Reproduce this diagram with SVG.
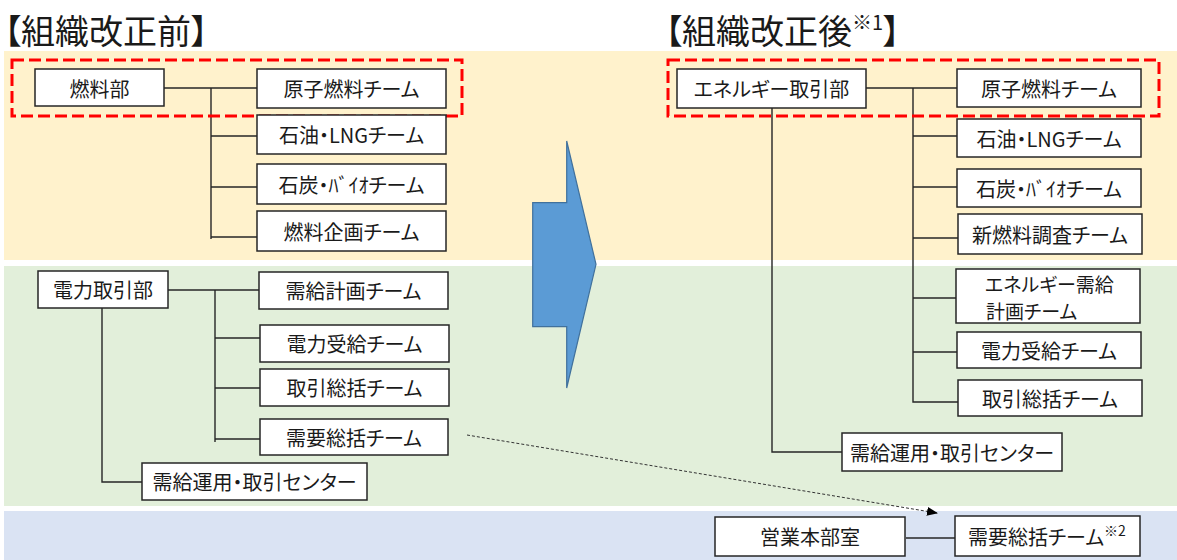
<svg xmlns="http://www.w3.org/2000/svg" width="1177" height="560" viewBox="0 0 1177 560">
<style>
.bg{stroke:none}
.box{fill:#fff;stroke:#262626;stroke-width:1.5}
.lbl{font-family:"Noto Sans CJK JP","Noto Sans",sans-serif;font-size:20px;fill:#1a1a1a;text-anchor:middle;dominant-baseline:central;font-feature-settings:"palt"}
.title{font-family:"Noto Sans CJK JP","Noto Sans",sans-serif;font-size:34px;fill:#1a1a1a;dominant-baseline:central;font-feature-settings:"palt"}
.ln{fill:none;stroke:#262626;stroke-width:1.4}
.red{fill:none;stroke:#ff0000;stroke-width:3;stroke-dasharray:12 5}
.dot{fill:none;stroke:#333;stroke-width:1;stroke-dasharray:3 2}
</style>
<defs>
<marker id="ah" markerWidth="11" markerHeight="9" refX="10" refY="4.5" orient="auto" markerUnits="userSpaceOnUse">
<path d="M0,0 L11,4.5 L0,9 Z" fill="#000"/>
</marker>
</defs>
<g id="bands">
<rect class="bg" x="4" y="51" width="1173" height="209" fill="#fff2cc"/>
<rect class="bg" x="4" y="266" width="1173" height="240" fill="#e2efda"/>
<rect class="bg" x="4" y="511" width="1173" height="49" fill="#dae3f3"/>
</g>
<g id="titles">
<text class="title" x="4" y="29">【組織改正前】</text>
<text class="title" x="665" y="29">【組織改正後<tspan font-size="20" dy="-8">※1</tspan><tspan dy="8">】</tspan></text>
</g>
<g id="big-arrow">
<polygon points="566.7,141 596,264.3 566.7,388 566.7,326.7 532.7,326.7 532.7,202.7 566.7,202.7" fill="#5b9bd5" stroke="#41719c" stroke-width="1.2"/>
</g>
<g id="connectors">
<polyline class="ln" points="164,88 257,88"/>
<polyline class="ln" points="211,88 211,239"/>
<polyline class="ln" points="211,136 257,136"/>
<polyline class="ln" points="211,187 257,187"/>
<polyline class="ln" points="211,237 257,237"/>
<polyline class="ln" points="168,290 259,290"/>
<polyline class="ln" points="215,290 215,442"/>
<polyline class="ln" points="215,338 260,338"/>
<polyline class="ln" points="215,388 260,388"/>
<polyline class="ln" points="215,439 260,439"/>
<polyline class="ln" points="102,308 102,482 142,482"/>
<polyline class="ln" points="866,88 957,88"/>
<polyline class="ln" points="913,88 913,402 958,402"/>
<polyline class="ln" points="913,136 957,136"/>
<polyline class="ln" points="913,187 957,187"/>
<polyline class="ln" points="913,238 958,238"/>
<polyline class="ln" points="913,298 956,298"/>
<polyline class="ln" points="913,352 957,352"/>
<polyline class="ln" points="772,108 772,452 842,452"/>
<polyline class="ln" points="906,538 955,538"/>
<line class="dot" x1="467" y1="435" x2="937" y2="513" marker-end="url(#ah)"/>
</g>
<g id="red-highlights">
<rect class="red" x="12" y="60" width="450" height="56"/>
<rect class="red" x="668" y="60" width="491" height="56"/>
</g>
<g id="n-fuel"><rect class="box" x="35" y="69" width="129" height="37"/><text class="lbl" x="99.5" y="88">燃料部</text></g>
<g id="n-l-nuclear"><rect class="box" x="257" y="69" width="189" height="39"/><text class="lbl" x="351.5" y="88.5">原子燃料チーム</text></g>
<g id="n-l-oil"><rect class="box" x="257" y="115" width="189" height="39"/><text class="lbl" x="351.5" y="134.5">石油・LNGチーム</text></g>
<g id="n-l-coal"><rect class="box" x="257" y="164" width="189" height="40"/><text class="lbl" x="351.5" y="184">石炭・ﾊﾞｲｵチーム</text></g>
<g id="n-l-plan"><rect class="box" x="257" y="211" width="189" height="40"/><text class="lbl" x="351.5" y="231">燃料企画チーム</text></g>
<g id="n-power"><rect class="box" x="38" y="271" width="130" height="37"/><text class="lbl" x="103" y="289.5">電力取引部</text></g>
<g id="n-l-supply"><rect class="box" x="259" y="272" width="189" height="37"/><text class="lbl" x="353.5" y="290.5">需給計画チーム</text></g>
<g id="n-l-recv"><rect class="box" x="260" y="325" width="189" height="37"/><text class="lbl" x="354.5" y="343.5">電力受給チーム</text></g>
<g id="n-l-trade"><rect class="box" x="260" y="369" width="189" height="37"/><text class="lbl" x="354.5" y="387.5">取引総括チーム</text></g>
<g id="n-l-demand"><rect class="box" x="260" y="419" width="188" height="36"/><text class="lbl" x="354" y="437">需要総括チーム</text></g>
<g id="n-l-center"><rect class="box" x="142" y="463" width="225" height="37"/><text class="lbl" x="254.5" y="481.5">需給運用・取引センター</text></g>
<g id="n-energy"><rect class="box" x="677" y="69" width="189" height="39"/><text class="lbl" x="771.5" y="88.5">エネルギー取引部</text></g>
<g id="n-r-nuclear"><rect class="box" x="957" y="69" width="184" height="38"/><text class="lbl" x="1049" y="88">原子燃料チーム</text></g>
<g id="n-r-oil"><rect class="box" x="957" y="119" width="184" height="38"/><text class="lbl" x="1049" y="138">石油・LNGチーム</text></g>
<g id="n-r-coal"><rect class="box" x="957" y="169" width="184" height="38"/><text class="lbl" x="1049" y="188">石炭・ﾊﾞｲｵチーム</text></g>
<g id="n-r-newfuel"><rect class="box" x="958" y="214" width="184" height="40"/><text class="lbl" x="1050" y="234">新燃料調査チーム</text></g>
<g id="n-r-energyplan"><rect class="box" x="956" y="269" width="184" height="54"/><text class="lbl" style="text-anchor:start;font-size:19px" x="985" y="283.5">エネルギー需給</text><text class="lbl" style="text-anchor:start;font-size:19px" x="986" y="310">計画チーム</text></g>
<g id="n-r-recv"><rect class="box" x="957" y="332" width="184" height="36"/><text class="lbl" x="1049" y="350">電力受給チーム</text></g>
<g id="n-r-trade"><rect class="box" x="958" y="380" width="184" height="36"/><text class="lbl" x="1050" y="398">取引総括チーム</text></g>
<g id="n-r-center"><rect class="box" x="842" y="433" width="220" height="38"/><text class="lbl" x="952" y="452">需給運用・取引センター</text></g>
<g id="n-sales"><rect class="box" x="715" y="517" width="190" height="39"/><text class="lbl" x="810" y="536.5">営業本部室</text></g>
<g id="n-r-demand"><rect class="box" x="955" y="516" width="185" height="40"/><text class="lbl" style="text-anchor:start" x="968" y="536">需要総括チーム<tspan font-size="14" dy="-6">※2</tspan></text></g>
</svg>
